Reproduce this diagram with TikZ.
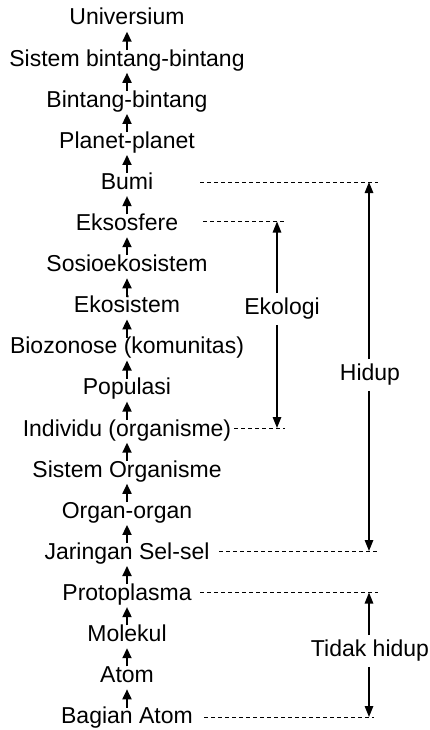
\documentclass[tikz,border=0pt]{standalone}
\usepackage{fontspec}
\setmainfont{Liberation Sans}
\usetikzlibrary{arrows.meta}
\begin{document}
\begin{tikzpicture}[x=1pt,y=-1pt,
  lvl/.style={font=\fontsize{23}{27}\selectfont, inner sep=0pt, text height=16pt, text depth=0pt, anchor=center},
  up/.style={-{Triangle[width=9pt,length=10pt]}, line width=1.8pt, shorten >=6.5pt, shorten <=0pt},
  span/.style={-{Triangle[width=8.5pt,length=11pt]}, line width=1.4pt},
  guide/.style={dashed, line width=0.7pt, dash pattern=on 4pt off 3pt},
  lab/.style={font=\fontsize{23}{27}\selectfont, fill=white, inner xsep=1pt, inner ysep=5pt}]
\useasboundingbox (0,0) rectangle (430,730);
\def\cx{127}
\node[lvl] (n0)  at (\cx,17)    {Universium};
\node[lvl] (n1)  at (\cx,58.1)  {Sistem bintang-bintang};
\node[lvl] (n2)  at (\cx,99.2)  {Bintang-bintang};
\node[lvl] (n3)  at (\cx,140.3) {Planet-planet};
\node[lvl] (n4)  at (\cx,181.4) {Bumi};
\node[lvl] (n5)  at (\cx,222.5) {Eksosfere};
\node[lvl] (n6)  at (\cx,263.6) {Sosioekosistem};
\node[lvl] (n7)  at (\cx,304.7) {Ekosistem};
\node[lvl] (n8)  at (\cx,345.8) {Biozonose (komunitas)};
\node[lvl] (n9)  at (\cx,386.9) {Populasi};
\node[lvl] (n10) at (\cx,428)   {Individu (organisme)};
\node[lvl] (n11) at (\cx,469.1) {Sistem Organisme};
\node[lvl] (n12) at (\cx,510.2) {Organ-organ};
\node[lvl] (n13) at (\cx,551.3) {Jaringan Sel-sel};
\node[lvl] (n14) at (\cx,592.4) {Protoplasma};
\node[lvl] (n15) at (\cx,633.5) {Molekul};
\node[lvl] (n16) at (\cx,674.6) {Atom};
\node[lvl] (n17) at (\cx,715.7) {Bagian Atom};
\foreach \a/\b in {1/0,2/1,3/2,4/3,5/4,6/5,7/6,8/7,9/8,10/9,11/10,12/11,13/12,14/13,15/14,16/15,17/16}
  \draw[up] (n\a.north) -- (n\b.south);
% guide lines
\coordinate (g4a) at (200,182);   \coordinate (g4b) at (378,182);
\coordinate (g5a) at (203,221.5); \coordinate (g5b) at (284,221.5);
\coordinate (g10a) at (234,428);  \coordinate (g10b) at (285,428);
\coordinate (g13a) at (219,551);  \coordinate (g13b) at (377,551);
\coordinate (g14a) at (200,592.5);\coordinate (g14b) at (378,592.5);
\coordinate (g17a) at (204,717);  \coordinate (g17b) at (374,717);
\foreach \g in {4,5,10,13,14,17} \draw[guide] (g\g a) -- (g\g b);
% span arrows
\coordinate (ekt) at (277,221.5); \coordinate (ekb) at (277,428);
\coordinate (hit) at (369,182);   \coordinate (hib) at (369,551);
\coordinate (tht) at (369,592.5); \coordinate (thb) at (369,717);
\node[lab] (eko) at (282,309) {Ekologi};
\node[lab] (hid) at (370,375) {Hidup};
\node[lab] (tdk) at (370,651) {Tidak hidup};
\draw[span] (eko.north -| ekt) -- (ekt);
\draw[span] (eko.south -| ekb) -- (ekb);
\draw[span] (hid.north -| hit) -- (hit);
\draw[span] (hid.south -| hib) -- (hib);
\draw[span] (tdk.north -| tht) -- (tht);
\draw[span] (tdk.south -| thb) -- (thb);
\end{tikzpicture}
\end{document}
